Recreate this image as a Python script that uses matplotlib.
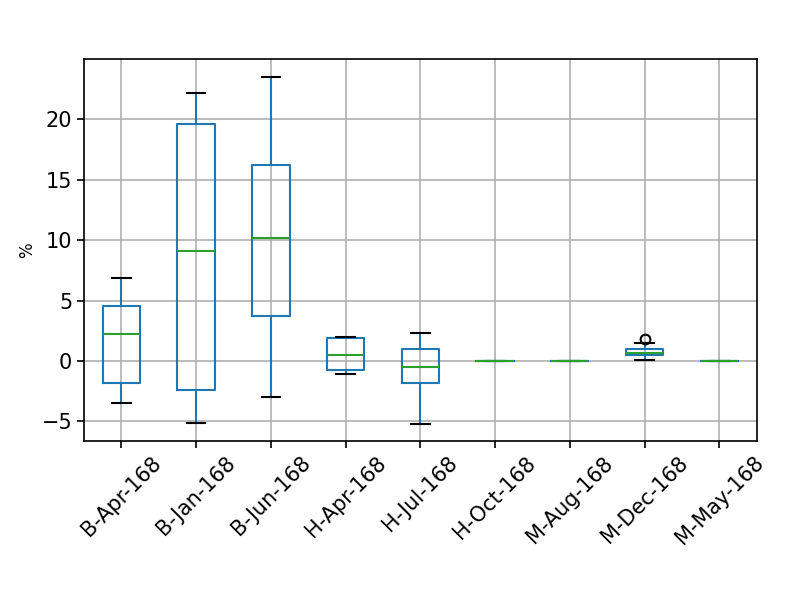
import matplotlib
matplotlib.use("Agg")
import matplotlib.pyplot as plt

# box statistics (percent)
labels = ["B-Apr-168", "B-Jan-168", "B-Jun-168", "H-Apr-168", "H-Jul-168",
          "H-Oct-168", "M-Aug-168", "M-Dec-168", "M-May-168"]
whislo = [-3.5, -5.18, -3.0, -1.1, -5.2, 0.0, 0.0, 0.08, 0.0]
q1 = [-1.82, -2.45, 3.74, -0.74, -1.79, 0.0, 0.0, 0.5, 0.0]
med = [2.23, 9.07, 10.19, 0.5, -0.5, 0.0, 0.0, 0.69, 0.0]
q3 = [4.57, 19.64, 16.26, 1.87, 0.97, 0.0, 0.0, 0.97, 0.0]
whishi = [6.88, 22.2, 23.55, 2.01, 2.29, 0.0, 0.0, 1.49, 0.0]
fliers = [[], [], [], [], [], [], [], [1.82], []]

stats = []
for i in range(len(labels)):
    stats.append(dict(label=labels[i], whislo=whislo[i], q1=q1[i], med=med[i],
                      q3=q3[i], whishi=whishi[i], fliers=fliers[i]))

fig = plt.figure(figsize=(7.89, 5.92), dpi=100)
ax = fig.add_axes([0.1065, 0.255, 0.8525, 0.645])
ax.set_axisbelow(True)
ax.grid(True, linewidth=1.2)

lw = 1.5
ax.bxp(stats,
       boxprops=dict(color="C0", linewidth=lw),
       whiskerprops=dict(color="C0", linewidth=lw),
       medianprops=dict(color="C2", linewidth=lw),
       capprops=dict(color="black", linewidth=lw),
       flierprops=dict(marker="o", markerfacecolor="none", markeredgecolor="black",
                       markersize=7, markeredgewidth=lw))

ax.tick_params(axis="both", labelsize=15, length=5, width=1.2)
plt.setp(ax.get_xticklabels(), rotation=45)
ax.set_ylabel("%", fontsize=12)
for s in ax.spines.values():
    s.set_linewidth(1.2)

fig.savefig("out.png", dpi=100)
